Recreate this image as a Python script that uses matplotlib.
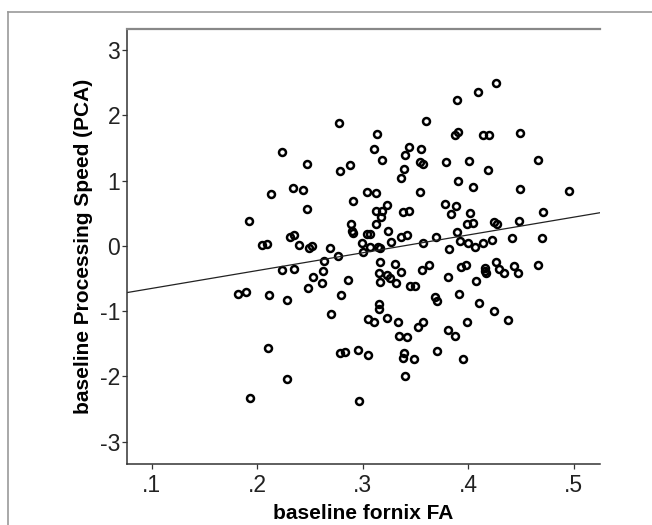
import numpy as np
import matplotlib.pyplot as plt
from matplotlib.lines import Line2D

# baseline fornix FA (x) and baseline processing speed PCA score (y)
fornix_fa = [0.192, 0.182, 0.189, 0.193, 0.204, 0.209, 0.213, 0.211, 0.210, 0.223,
             0.223, 0.228, 0.228, 0.231, 0.235, 0.235, 0.234, 0.243, 0.239, 0.247,
             0.247, 0.249, 0.252, 0.253, 0.248, 0.261, 0.263, 0.262, 0.269, 0.270,
             0.276, 0.277, 0.278, 0.279, 0.278, 0.283, 0.288, 0.286, 0.291, 0.289,
             0.290, 0.291, 0.295, 0.296, 0.299, 0.300, 0.304, 0.307, 0.304, 0.312,
             0.311, 0.313, 0.307, 0.305, 0.305, 0.311, 0.312, 0.312, 0.314, 0.316,
             0.316, 0.315, 0.316, 0.315, 0.315, 0.318, 0.317, 0.318, 0.323, 0.324,
             0.323, 0.326, 0.323, 0.327, 0.330, 0.331, 0.333, 0.334, 0.336, 0.336,
             0.336, 0.338, 0.339, 0.340, 0.342, 0.344, 0.344, 0.342, 0.339, 0.338,
             0.340, 0.345, 0.349, 0.348, 0.352, 0.354, 0.355, 0.354, 0.357, 0.357,
             0.356, 0.357, 0.360, 0.363, 0.369, 0.368, 0.370, 0.370, 0.379, 0.378,
             0.381, 0.382, 0.384, 0.381, 0.387, 0.390, 0.389, 0.388, 0.390, 0.389,
             0.392, 0.391, 0.387, 0.393, 0.395, 0.398, 0.399, 0.399, 0.400, 0.401,
             0.402, 0.404, 0.404, 0.406, 0.407, 0.410, 0.409, 0.414, 0.420, 0.419,
             0.414, 0.416, 0.416, 0.417, 0.422, 0.424, 0.424, 0.427, 0.426, 0.426,
             0.429, 0.434, 0.438, 0.441, 0.443, 0.447, 0.448, 0.449, 0.449, 0.466,
             0.466, 0.470, 0.471, 0.495]
speed_pca = [0.38, -0.73, -0.70, -2.33, 0.02, 0.03, 0.79, -0.76, -1.57, 1.44,
             -0.37, -0.83, -2.04, 0.13, 0.16, -0.36, 0.89, 0.85, 0.01, 0.57,
             1.26, -0.03, 0.00, -0.48, -0.64, -0.57, -0.23, -0.38, -0.03, -1.04,
             -0.15, 1.88, 1.14, -0.76, -1.64, -1.63, 1.24, -0.52, 0.68, 0.34,
             0.23, 0.19, -1.59, -2.37, 0.05, -0.09, 0.18, 0.18, 0.83, 0.81,
             1.49, 1.72, -0.01, -1.67, -1.12, -1.17, 0.34, 0.53, -0.01, -0.04,
             -0.25, -0.42, -0.56, -0.89, -0.96, 1.32, 0.44, 0.53, 0.63, 0.23,
             -0.45, -0.49, -1.10, 0.06, -0.28, -0.57, -1.16, -1.38, -0.40, 1.04,
             0.13, 0.52, 1.17, 1.39, 0.16, 1.52, 0.54, -1.39, -1.64, -1.72,
             -1.99, -0.61, -0.62, -1.73, -1.24, 0.82, 1.49, 1.29, 1.25, 0.04,
             -0.37, -1.16, 1.91, -0.30, 0.14, -0.78, -0.85, -1.61, 1.29, 0.64,
             -0.48, -0.05, 0.49, -1.29, 1.70, 1.74, 2.23, 0.61, 1.00, 0.21,
             0.07, -0.74, -1.38, -0.33, -1.73, -0.29, 0.33, -1.17, 0.05, 1.30,
             0.51, 0.35, 0.90, -0.02, -0.54, -0.87, 2.36, 1.69, 1.70, 1.16,
             0.04, -0.34, -0.39, -0.41, 0.09, -1.00, 0.36, 0.34, 2.50, -0.24,
             -0.36, -0.41, -1.14, 0.12, -0.31, -0.41, 0.38, 0.87, 1.73, 1.31,
             -0.29, 0.12, 0.52, 0.84]

x_ticks = [0.1, 0.2, 0.3, 0.4, 0.5]
x_tick_labels = ['.1', '.2', '.3', '.4', '.5']
y_ticks = [-3, -2, -1, 0, 1, 2, 3]
y_tick_labels = ['-3', '-2', '-1', '0', '1', '2', '3']

plt.rcParams['font.family'] = ['Liberation Sans', 'DejaVu Sans']

fig = plt.figure(figsize=(6.52, 5.25), dpi=100)
ax = fig.add_axes([127 / 652, 1 - 464 / 525, 473 / 652, 435 / 525])

ax.plot(fornix_fa, speed_pca, 'o', markerfacecolor='none', markeredgecolor='black',
        markersize=5.0, markeredgewidth=1.8)

# linear fit line across the whole x range
xlim = (0.0764, 0.5248)
slope, intercept = np.polyfit(fornix_fa, speed_pca, 1)
fit_x = np.array(xlim)
ax.plot(fit_x, intercept + slope * fit_x, color='#222222', linewidth=0.9)

ax.set_xlim(xlim)
ax.set_ylim(-3.34, 3.32)
ax.set_xticks(x_ticks)
ax.set_xticklabels(x_tick_labels)
ax.set_yticks(y_ticks)
ax.set_yticklabels(y_tick_labels)

tick_font = ['Liberation Sans Narrow', 'Liberation Sans']
for lab in ax.get_xticklabels() + ax.get_yticklabels():
    lab.set_family(tick_font)
    lab.set_fontsize(16.5)
    lab.set_color('#222222')
ax.tick_params(direction='out', length=3.5, width=0.9, color='#333333')
ax.tick_params(axis='x', pad=4)
ax.tick_params(axis='y', pad=1.5)

ax.set_xlabel('baseline fornix FA', fontsize=15, fontweight='bold', labelpad=5)
ax.set_ylabel('baseline Processing Speed (PCA)', fontsize=15, fontweight='bold', labelpad=5)

ax.spines['right'].set_visible(False)
ax.spines['top'].set_color('#888888')
ax.spines['top'].set_linewidth(1.6)
ax.spines['left'].set_color('#333333')
ax.spines['bottom'].set_color('#333333')
ax.spines['left'].set_linewidth(1.1)
ax.spines['bottom'].set_linewidth(1.1)

# outer frame of the original figure (left and top edges)
fig.add_artist(Line2D([8 / 652, 8 / 652], [0, 1 - 12 / 525], transform=fig.transFigure,
                      color='#999999', linewidth=1.2))
fig.add_artist(Line2D([8 / 652, 1], [1 - 12 / 525, 1 - 12 / 525], transform=fig.transFigure,
                      color='#999999', linewidth=1.2))

fig.savefig('out.png', dpi=100)
